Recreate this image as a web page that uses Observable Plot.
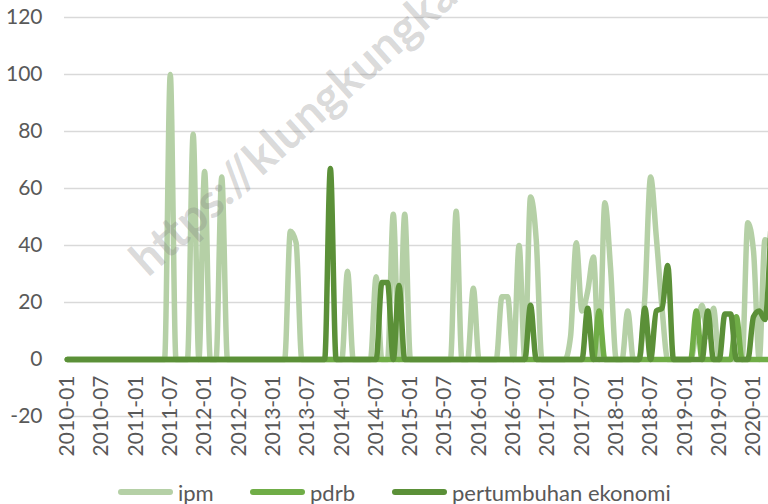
<!DOCTYPE html>
<html>
<head>
<meta charset="utf-8">
<script src="https://cdn.jsdelivr.net/npm/d3@7"></script>
<script src="https://cdn.jsdelivr.net/npm/@observablehq/plot@0.6"></script>
<style>
  html, body { margin: 0; padding: 0; background: #fff; }
  #wrap { position: relative; width: 768px; height: 504px; overflow: hidden; font-family: Lato, "Open Sans", sans-serif; }
  #chart { position: absolute; left: 0; top: 0; }
  .leg { position: absolute; top: 477px; height: 30px; display: flex; align-items: center; color: #595959; font-size: 22px; white-space: nowrap; }
  .sw { width: 55px; height: 6px; border-radius: 3px; margin-right: 5px; }
  #wm { position: absolute; left: 0; top: 0; pointer-events: none; }
</style>
</head>
<body>
<div id="wrap">
  <div id="chart"></div>
  <div class="leg" style="left:118px"><div class="sw" style="background:#B5D0A6"></div><span id="l0"></span></div>
  <div class="leg" style="left:250px"><div class="sw" style="background:#70AD47"></div><span id="l1"></span></div>
  <div class="leg" style="left:392px"><div class="sw" style="background:#5B9038"></div><span id="l2"></span></div>
  <svg id="wm" width="768" height="504"><text x="148" y="278" transform="rotate(-41.7 148 278)" font-family="Lato, sans-serif" font-weight="bold" font-size="47" fill="#808080" fill-opacity="0.3">https://klungkungkab.bps.go.id</text></svg>
</div>
<script>
const seriesNames = ["ipm", "pdrb", "pertumbuhan ekonomi"];
const seriesColors = ["#B5D0A6", "#70AD47", "#5B9038"];

// x tick labels (every 6th month starting at month index 0)
const tickLabels = ["2010-01","2010-07","2011-01","2011-07","2012-01","2012-07","2013-01","2013-07",
  "2014-01","2014-07","2015-01","2015-07","2016-01","2016-07","2017-01","2017-07","2018-01","2018-07",
  "2019-01","2019-07","2020-01"];
const yTicks = [-20, 0, 20, 40, 60, 80, 100, 120];

// monthly values, index 0 = 2010-01
const ipm = [
  0,0,0,0,0,0,0,0,0,0,
  0,0,0,0,0,0,0,0,100,0,
  0,0,79,0,66,0,0,64,0,0,
  0,0,0,0,0,0,0,0,0,45,
  41,0,0,0,0,0,0,0,0,31,
  0,0,0,0,29,0,0,51,0,51,
  0,0,0,0,0,0,0,0,52,0,
  0,25,0,0,0,0,22,22,0,40,
  0,57,42,0,0,0,0,0,8,41,
  17,24,36,0,55,32,0,0,17,0,
  0,22,64,43,18,0,0,0,0,0,
  10,19,8,18,0,0,0,0,0,48,
  38,0,42,40];
const pdrb = [
  0,0,0,0,0,0,0,0,0,0,
  0,0,0,0,0,0,0,0,0,0,
  0,0,0,0,0,0,0,0,0,0,
  0,0,0,0,0,0,0,0,0,0,
  0,0,0,0,0,0,0,0,0,0,
  0,0,0,0,0,0,0,0,0,0,
  0,0,0,0,0,0,0,0,0,0,
  0,0,0,0,0,0,0,0,0,0,
  0,0,0,0,0,0,0,0,0,0,
  0,0,0,17,0,0,0,0,0,0,
  0,0,0,0,0,0,0,0,0,0,
  17,0,0,0,0,0,0,15,0,0,
  0,0,0,0];
const pertumbuhan = [
  0,0,0,0,0,0,0,0,0,0,
  0,0,0,0,0,0,0,0,0,0,
  0,0,0,0,0,0,0,0,0,0,
  0,0,0,0,0,0,0,0,0,0,
  0,0,0,0,0,0,67,0,0,0,
  0,0,0,0,0,27,27,0,26,0,
  0,0,0,0,0,0,0,0,0,0,
  0,0,0,0,0,0,0,0,0,0,
  0,19,0,0,0,0,0,0,0,0,
  0,18,0,0,0,0,0,0,0,0,
  0,18,0,17,18,33,0,0,0,0,
  0,0,17,0,0,16,16,0,0,0,
  15,17,14,45];

const rows = ipm.map((v, i) => ({i, ipm: v, pdrb: pdrb[i], pe: pertumbuhan[i]}));

document.getElementById("l0").textContent = seriesNames[0];
document.getElementById("l1").textContent = seriesNames[1];
document.getElementById("l2").textContent = seriesNames[2];

const lineOpts = {x: "i", strokeWidth: 5.5, curve: "monotone-x", clip: true};

const chart = Plot.plot({
  width: 768,
  height: 470,
  marginLeft: 64,
  marginRight: 0,
  marginTop: 17,
  marginBottom: 54,
  x: {domain: [-0.5, 122.62], axis: null},
  y: {domain: [-20, 120], axis: null},
  style: {fontFamily: "Lato, sans-serif", fontSize: "21px", color: "#595959", background: "white", overflow: "visible"},
  marks: [
    Plot.ruleY(yTicks, {stroke: "#d9d9d9", strokeWidth: 1.3}),
    Plot.axisY(yTicks, {tickSize: 0, tickPadding: 22, tickFormat: d => String(d), label: null, fontSize: 21, fill: "#595959"}),
    Plot.text(tickLabels, {x: (d, k) => k * 6, y: () => 0, text: d => d, rotate: -90, textAnchor: "end", dy: 16, fontSize: 21, fill: "#595959"}),
    Plot.line(rows, {...lineOpts, y: "ipm", stroke: seriesColors[0]}),
    Plot.line(rows, {...lineOpts, y: "pdrb", stroke: seriesColors[1]}),
    Plot.line(rows, {...lineOpts, y: "pe", stroke: seriesColors[2]})
  ]
});
document.getElementById("chart").appendChild(chart);
</script>
</body>
</html>
